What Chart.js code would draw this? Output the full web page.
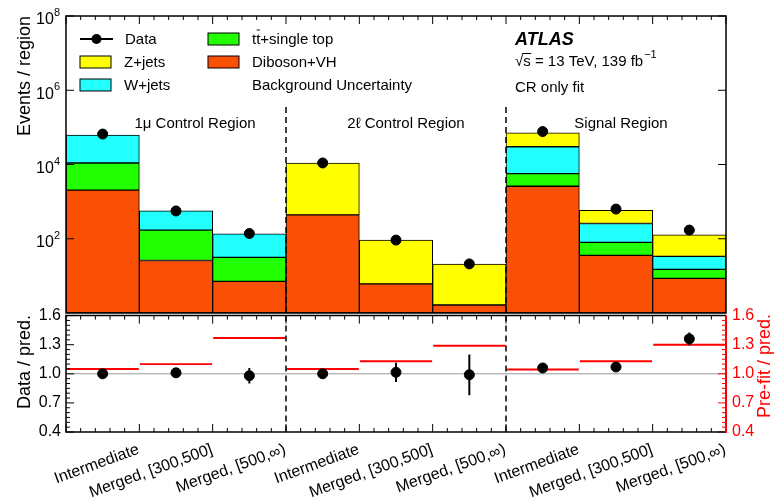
<!DOCTYPE html>
<html>
<head>
<meta charset="utf-8">
<script src="https://cdn.jsdelivr.net/npm/chart.js@4.4.0/dist/chart.umd.min.js"></script>
<style>
  body { margin: 0; background: #fff; }
  #wrap { position: relative; width: 776px; height: 504px; }
  canvas { position: absolute; left: 0; }
  #main { top: 0; }
  #ratio { top: 300px; }
</style>
</head>
<body>
<div id="wrap">
  <canvas id="main" width="776" height="314"></canvas>
  <canvas id="ratio" width="776" height="204"></canvas>
</div>
<script>
// bins: 3 regions x 3 categories
const labels = ['Intermediate', 'Merged, [300,500]', 'Merged, [500,\u221e)',
                'Intermediate', 'Merged, [300,500]', 'Merged, [500,\u221e)',
                'Intermediate', 'Merged, [300,500]', 'Merged, [500,\u221e)'];
const regionNames = ['1\u03bc Control Region', '2\u2113 Control Region', 'Signal Region'];

// post-fit yields per process (events / region)
const diboson = [2040, 26, 7.1, 441, 6.1, 1.64, 2600, 35.6, 8.6];
const ttbar   = [8960, 145, 24.4, 0, 0, 0, 3100, 44, 6.4];
const wjets   = [51000, 394, 104, 0, 0, 0, 24300, 178, 18.5];
const zjets   = [0, 0, 0, 10560, 86, 19.2, 41000, 322, 94];
const data    = [66000, 560, 138, 11000, 92, 21, 77000, 630, 171];

// ratio panel
const ratio    = [1.00, 1.01, 0.98, 1.00, 1.015, 0.99, 1.06, 1.07, 1.36];
const ratioErr = [0.01, 0.015, 0.08, 0.01, 0.10, 0.21, 0.01, 0.015, 0.065];
const prefit   = [1.05, 1.10, 1.37, 1.05, 1.13, 1.29, 1.045, 1.13, 1.30];

const decadeTicks = [2, 4, 6, 8];

const FONT = '"Liberation Sans", Arial, Helvetica, sans-serif';
Chart.defaults.font.family = FONT;
Chart.defaults.color = '#000';

function binGeom(chart) {
  const xs = chart.scales.x;
  const w = (xs.right - xs.left) / labels.length;
  const edges = [];
  for (let i = 0; i <= labels.length; i++) edges.push(xs.getPixelForValue(0) - w / 2 + i * w);
  return { edges, w };
}

// inward ticks along a horizontal edge
function xTicks(ctx, chart, y, dir) {
  const { edges, w } = binGeom(chart);
  ctx.beginPath();
  edges.forEach((e, i) => {
    ctx.moveTo(e, y); ctx.lineTo(e, y + dir * 8);
    if (i < edges.length - 1) {
      for (let k = 1; k < 5; k++) {
        const x = e + k * w / 5;
        ctx.moveTo(x, y); ctx.lineTo(x, y + dir * 4);
      }
    }
  });
  ctx.stroke();
}

function vText(ctx, txt, x, y, font, color) {
  ctx.save();
  ctx.translate(x, y);
  ctx.rotate(-Math.PI / 2);
  ctx.font = font;
  ctx.fillStyle = color;
  ctx.textAlign = 'center';
  ctx.textBaseline = 'middle';
  ctx.fillText(txt, 0, 0);
  ctx.restore();
}

const mainDecor = {
  id: 'mainDecor',
  afterDraw(chart) {
    const ctx = chart.ctx, a = chart.chartArea, ys = chart.scales.y;
    const { edges } = binGeom(chart);
    ctx.save();
    ctx.strokeStyle = '#000';
    ctx.lineWidth = 1;
    xTicks(ctx, chart, a.top, 1);

    // decade ticks + labels
    ctx.beginPath();
    decadeTicks.forEach(d => {
      const y = ys.getPixelForValue(Math.pow(10, d));
      ctx.moveTo(a.left, y); ctx.lineTo(a.left + 8, y);
      ctx.moveTo(a.right, y); ctx.lineTo(a.right - 8, y);
    });
    ctx.stroke();
    ctx.fillStyle = '#000';
    ctx.textBaseline = 'middle';
    ctx.textAlign = 'right';
    decadeTicks.forEach(d => {
      const y = ys.getPixelForValue(Math.pow(10, d));
      ctx.font = '11px ' + FONT;
      const ew = ctx.measureText(String(d)).width;
      ctx.fillText(String(d), a.left - 6, y - 3);
      ctx.font = '16px ' + FONT;
      ctx.fillText('10', a.left - 6 - ew, y + 4);
    });

    // frame
    ctx.lineWidth = 1.5;
    ctx.strokeRect(a.left, a.top, a.right - a.left, a.bottom - a.top);

    // region separators
    ctx.lineWidth = 1.5;
    ctx.setLineDash([6, 4]);
    ctx.beginPath();
    [3, 6].forEach(i => { ctx.moveTo(edges[i], 107); ctx.lineTo(edges[i], a.bottom); });
    ctx.stroke();
    ctx.setLineDash([]);

    // region labels
    ctx.font = '15px ' + FONT;
    ctx.textAlign = 'center';
    [195, 406, 621].forEach((x, i) => ctx.fillText(regionNames[i], x, 124));

    // legend
    ctx.textAlign = 'left';
    ctx.lineWidth = 2;
    ctx.beginPath(); ctx.moveTo(80, 39); ctx.lineTo(113, 39); ctx.stroke();
    ctx.beginPath(); ctx.arc(96.5, 39, 5, 0, Math.PI * 2); ctx.fill();
    ctx.fillText('Data', 125, 40);
    const boxes = [
      [80, 62, '#ffff00', 'Z+jets'],
      [80, 85, '#22ffff', 'W+jets'],
      [208, 39, '#22ff00', 'tt+single top'],
      [208, 62, '#fa5005', 'Diboson+VH']
    ];
    ctx.lineWidth = 1;
    boxes.forEach(([x, y, c, t]) => {
      ctx.fillStyle = c;
      ctx.fillRect(x, y - 6, 31, 12);
      ctx.strokeRect(x, y - 6, 31, 12);
      ctx.fillStyle = '#000';
      ctx.fillText(t, x + 44, y + 1);
    });
    // bar over second t
    const tw = ctx.measureText('t').width;
    ctx.beginPath();
    ctx.moveTo(252 + tw + 0.5, 30); ctx.lineTo(252 + 2 * tw - 0.5, 30);
    ctx.stroke();
    ctx.fillText('Background Uncertainty', 252, 86);

    // ATLAS label
    ctx.font = 'italic bold 18px ' + FONT;
    ctx.fillText('ATLAS', 515, 40);
    ctx.font = '15px ' + FONT;
    const rw = ctx.measureText('\u221a').width;
    ctx.fillText('\u221a', 515, 62);
    ctx.fillText('s = 13 TeV, 139 fb', 515 + rw, 62);
    const sw = ctx.measureText('s').width;
    ctx.beginPath();
    ctx.moveTo(515 + rw - 1, 53.5); ctx.lineTo(515 + rw + sw + 0.5, 53.5);
    ctx.stroke();
    const fw = ctx.measureText('s = 13 TeV, 139 fb').width;
    ctx.font = '11px ' + FONT;
    ctx.fillText('\u22121', 515 + rw + fw + 1, 55);
    ctx.font = '15px ' + FONT;
    ctx.fillText('CR only fit', 515, 88);

    // axis title
    vText(ctx, 'Events / region', 25, 76, '18px ' + FONT, '#000');
    ctx.restore();
  }
};

const ratioDecor = {
  id: 'ratioDecor',
  beforeDatasetsDraw(chart) {
    const ctx = chart.ctx, a = chart.chartArea, ys = chart.scales.y;
    const y1 = ys.getPixelForValue(1.0);
    ctx.save();
    ctx.strokeStyle = '#999';
    ctx.lineWidth = 1;
    ctx.beginPath(); ctx.moveTo(a.left, y1); ctx.lineTo(a.right, y1); ctx.stroke();
    ctx.restore();
  },
  afterDraw(chart) {
    const ctx = chart.ctx, a = chart.chartArea, ys = chart.scales.y, xs = chart.scales.x;
    const { edges } = binGeom(chart);
    ctx.save();
    // error bars
    ctx.strokeStyle = '#000';
    ctx.lineWidth = 2;
    ctx.beginPath();
    ratio.forEach((r, i) => {
      const x = xs.getPixelForValue(i);
      ctx.moveTo(x, ys.getPixelForValue(r - ratioErr[i]));
      ctx.lineTo(x, ys.getPixelForValue(r + ratioErr[i]));
    });
    ctx.stroke();

    ctx.lineWidth = 1;
    xTicks(ctx, chart, a.top, 1);
    xTicks(ctx, chart, a.bottom, -1);

    // y ticks (major 0.3, minor 0.05)
    const tickY = (side, color) => {
      ctx.strokeStyle = color;
      ctx.beginPath();
      for (let k = 0; k <= 24; k++) {
        const v = 0.4 + k * 0.05;
        const y = ys.getPixelForValue(v);
        const len = k % 6 === 0 ? 8 : 4;
        if (side === 'left') { ctx.moveTo(a.left, y); ctx.lineTo(a.left + len, y); }
        else { ctx.moveTo(a.right, y); ctx.lineTo(a.right - len, y); }
      }
      ctx.stroke();
    };
    tickY('left', '#000');
    tickY('right', '#ff0000');

    ctx.strokeStyle = '#000';
    ctx.lineWidth = 1.5;
    ctx.beginPath();
    ctx.moveTo(a.right, a.top); ctx.lineTo(a.left, a.top);
    ctx.lineTo(a.left, a.bottom); ctx.lineTo(a.right, a.bottom);
    ctx.stroke();
    ctx.strokeStyle = '#ff0000';
    ctx.lineWidth = 2;
    ctx.beginPath(); ctx.moveTo(a.right, a.top); ctx.lineTo(a.right, a.bottom + 1); ctx.stroke();

    ctx.strokeStyle = '#000';
    ctx.lineWidth = 1.5;
    ctx.setLineDash([6, 4]);
    ctx.beginPath();
    [3, 6].forEach(i => { ctx.moveTo(edges[i], a.top); ctx.lineTo(edges[i], a.bottom); });
    ctx.stroke();
    ctx.setLineDash([]);

    vText(ctx, 'Data / pred.', 25, 62, '18px ' + FONT, '#000');
    vText(ctx, 'Pre-fit / pred.', 765, 66, '18px ' + FONT, '#ff0000');
    ctx.restore();
  }
};

const barStyle = { type: 'bar', stack: 'bkg', borderColor: '#000', borderWidth: 1,
                   borderSkipped: false, barPercentage: 1, categoryPercentage: 1 };

new Chart(document.getElementById('main'), {
  data: {
    labels: labels,
    datasets: [
      Object.assign({ label: 'Diboson+VH', data: diboson, backgroundColor: '#fa5005' }, barStyle),
      Object.assign({ label: 'ttbar+single top', data: ttbar, backgroundColor: '#22ff00' }, barStyle),
      Object.assign({ label: 'W+jets', data: wjets, backgroundColor: '#22ffff' }, barStyle),
      Object.assign({ label: 'Z+jets', data: zjets, backgroundColor: '#ffff00' }, barStyle),
      { type: 'line', label: 'Data', data: data, stack: 'data', showLine: false,
        pointRadius: 5, pointBackgroundColor: '#000', pointBorderColor: '#000', order: -1 }
    ]
  },
  options: {
    responsive: false,
    animation: false,
    devicePixelRatio: 1,
    events: [],
    layout: { autoPadding: false, padding: { left: 66, right: 50, top: 16, bottom: 1 } },
    plugins: { legend: { display: false }, tooltip: { enabled: false } },
    scales: {
      x: { display: false, stacked: true },
      y: { display: false, stacked: true, type: 'logarithmic', min: 1, max: 1e8 }
    }
  },
  plugins: [mainDecor]
});

new Chart(document.getElementById('ratio'), {
  data: {
    labels: labels,
    datasets: [
      { type: 'bar', label: 'Pre-fit / pred.', yAxisID: 'y2', order: 2,
        data: prefit.map(v => [v - 0.01, v + 0.01]), backgroundColor: '#ff0000',
        barPercentage: 1, categoryPercentage: 0.985 },
      { type: 'line', label: 'Data / pred.', yAxisID: 'y', order: 1, data: ratio,
        showLine: false, pointRadius: 5, pointBackgroundColor: '#000', pointBorderColor: '#000' }
    ]
  },
  options: {
    responsive: false,
    animation: false,
    devicePixelRatio: 1,
    events: [],
    layout: { autoPadding: false, padding: { left: 0, right: 0, top: 13, bottom: 0 } },
    plugins: { legend: { display: false }, tooltip: { enabled: false } },
    scales: {
      x: {
        grid: { display: false }, border: { display: false },
        ticks: { font: { size: 16 }, color: '#000', autoSkip: false, minRotation: 20, maxRotation: 20,
                 labelOffset: 36, padding: 0 },
        afterFit: s => { s.height = 72; }
      },
      y: {
        position: 'left', min: 0.4, max: 1.6,
        grid: { display: false, drawTicks: false }, border: { display: false },
        ticks: { stepSize: 0.3, font: { size: 16 }, color: '#000', padding: 5,
                 callback: v => v.toFixed(1) },
        afterFit: s => { s.width = 66; }
      },
      y2: {
        position: 'right', min: 0.4, max: 1.6,
        grid: { display: false, drawTicks: false }, border: { display: false },
        ticks: { stepSize: 0.3, font: { size: 16 }, color: '#ff0000', padding: 6,
                 callback: v => v.toFixed(1) },
        afterFit: s => { s.width = 50; }
      }
    }
  },
  plugins: [ratioDecor]
});
</script>
</body>
</html>
